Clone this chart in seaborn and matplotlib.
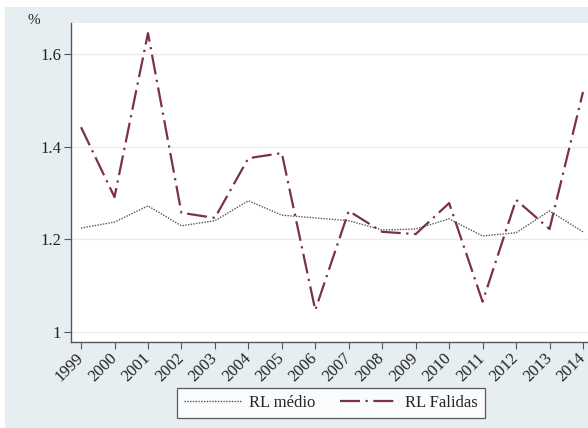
import matplotlib
matplotlib.use("Agg")
import matplotlib.pyplot as plt
import seaborn as sns
import pandas as pd
from matplotlib.patches import Rectangle

years = list(range(1999, 2015))
rl_medio = [1.224, 1.237, 1.272, 1.229, 1.240, 1.283, 1.252, 1.246, 1.240, 1.220,
            1.222, 1.244, 1.207, 1.214, 1.261, 1.216]
rl_falidas = [1.442, 1.291, 1.645, 1.257, 1.246, 1.375, 1.386, 1.047, 1.261, 1.216,
              1.211, 1.278, 1.065, 1.285, 1.222, 1.518]
yticks = [1.0, 1.2, 1.4, 1.6]
ytick_labels = ["1", "1.2", "1.4", "1.6"]

sns.set_theme(style="white")
plt.rcParams['font.family'] = ['Liberation Serif', 'DejaVu Serif']

fig = plt.figure(figsize=(5.88, 4.28), dpi=100)
fig.patch.set_facecolor("white")
bg = fig.add_axes([5/588, 0, 1 - 5/588, 1 - 7/428], zorder=-10)
bg.set_facecolor("#e6eef1")
bg.set_axis_off()
bg.add_patch(Rectangle((0, 0), 1, 1, transform=bg.transAxes, facecolor="#e6eef1",
                       edgecolor="none"))

ax = fig.add_axes([71/588, 1 - 342/428, 1 - 71/588, (342 - 23)/428])
ax.set_facecolor("white")

df = pd.DataFrame({"year": years, "medio": rl_medio, "falidas": rl_falidas})
sns.lineplot(data=df, x="year", y="medio", ax=ax, color="#555555", lw=1.0,
             linestyle=(0, (1, 1)), label="RL médio")
sns.lineplot(data=df, x="year", y="falidas", ax=ax, color="#7a3340", lw=1.6,
             dashes=(9, 2.5, 1, 2.5), label="RL Falidas")

ax.set_xlim(1998.7, 2014.15)
ax.set_ylim(0.978, 1.667)
ax.set_yticks(yticks)
ax.set_yticklabels(ytick_labels)
ax.set_xticks(years)
ax.set_xticklabels([str(y) for y in years], rotation=45, ha="right", va="center",
                   rotation_mode="anchor")
ax.set_xlabel("")
ax.set_ylabel("")
for y in yticks:
    ax.axhline(y, color="#ececec", lw=1.0, zorder=0)

for s in ["top", "right"]:
    ax.spines[s].set_visible(False)
for s in ["left", "bottom"]:
    ax.spines[s].set_color("#555555")
    ax.spines[s].set_linewidth(1.0)
ax.tick_params(axis="y", which="major", direction="out", length=5, width=0.8,
               color="#555555", labelsize=12, labelcolor="#222222", pad=2, left=True)
ax.tick_params(axis="x", which="major", direction="out", length=5, width=0.8,
               color="#555555", labelsize=12, labelcolor="#222222", pad=5, bottom=True)

fig.text(28/588, 1 - 20/428, "%", fontsize=11, color="#222222", ha="left", va="center")

ax.get_legend().remove()
h, l = ax.get_legend_handles_labels()
leg = fig.legend(h, l, loc="center", bbox_to_anchor=(331/588, 1 - 403/428), ncol=2,
                 frameon=True, fancybox=False, edgecolor="#333333", fontsize=12,
                 handlelength=3.5, columnspacing=1.5, borderpad=0.4, handletextpad=0.4)
leg.get_frame().set_linewidth(0.9)
leg.get_frame().set_facecolor("white")

fig.savefig("out.png", dpi=100)
